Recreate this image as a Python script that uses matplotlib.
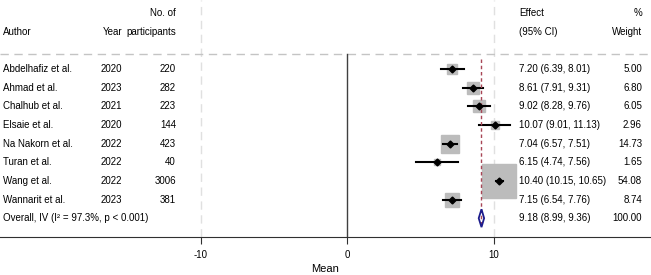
import numpy as np
import matplotlib
matplotlib.use("Agg")
import matplotlib.pyplot as plt
from matplotlib.patches import Polygon

plt.rcParams['font.family'] = ['Liberation Sans', 'DejaVu Sans']
plt.rcParams['axes.unicode_minus'] = False

authors = ['Abdelhafiz et al.', 'Ahmad et al.', 'Chalhub et al.', 'Elsaie et al.',
           'Na Nakorn et al.', 'Turan et al.', 'Wang et al.', 'Wannarit et al.']
years = [2020, 2023, 2021, 2020, 2022, 2022, 2022, 2023]
participants = [220, 282, 223, 144, 423, 40, 3006, 381]
effect = [7.20, 8.61, 9.02, 10.07, 7.04, 6.15, 10.40, 7.15]
lower = [6.39, 7.91, 8.28, 9.01, 6.57, 4.74, 10.15, 6.54]
upper = [8.01, 9.31, 9.76, 11.13, 7.51, 7.56, 10.65, 7.76]
weight = [5.00, 6.80, 6.05, 2.96, 14.73, 1.65, 54.08, 8.74]
overall = (9.18, 8.99, 9.36)
overall_label = 'Overall, IV (I² = 97.3%, p < 0.001)'

fig = plt.figure(figsize=(6.51, 2.75), dpi=100)
ax = fig.add_axes([0, 1 - 237 / 275, 1, 237 / 275])

row_px = 18.65
ax.set_xlim(-347 / 14.65, (651 - 347) / 14.65)
ax.set_ylim((237 - 69) / row_px, -69 / row_px)

fs = 7
# columns (data coords on the effect scale)
x_author, x_year, x_part = -23.48, -15.32, -11.67
x_eff, x_wt = 11.74, 20.14

# header
ax.text(x_part, -3.0, 'No. of', ha='right', va='center', fontsize=fs)
ax.text(x_author, -2.0, 'Author', ha='left', va='center', fontsize=fs)
ax.text(x_year, -2.0, 'Year', ha='right', va='center', fontsize=fs)
ax.text(x_part, -2.0, 'participants', ha='right', va='center', fontsize=fs)
ax.text(x_eff, -3.0, 'Effect', ha='left', va='center', fontsize=fs)
ax.text(x_eff, -2.0, '(95% CI)', ha='left', va='center', fontsize=fs)
ax.text(x_wt, -3.0, '%', ha='right', va='center', fontsize=fs)
ax.text(x_wt, -2.0, 'Weight', ha='right', va='center', fontsize=fs)

# reference lines
ax.axhline(-0.8, color='#c4c4c4', lw=1, dashes=(6, 4))
for xv in (-10, 10):
    ax.axvline(xv, color='#e0e0e0', lw=1, dashes=(6, 4), zorder=0)
ax.plot([0, 0], [-0.8, 9.01], color='#404040', lw=1)
ax.plot([overall[0]] * 2, [-0.55, 8.4], color='#a84656', lw=1, dashes=(2.5, 2), zorder=4)

for i in range(len(authors)):
    ax.text(x_author, i, authors[i], ha='left', va='center', fontsize=fs)
    ax.text(x_year, i, str(years[i]), ha='right', va='center', fontsize=fs)
    ax.text(x_part, i, str(participants[i]), ha='right', va='center', fontsize=fs)
    ax.text(x_eff, i, f'{effect[i]:.2f} ({lower[i]:.2f}, {upper[i]:.2f})',
            ha='left', va='center', fontsize=fs)
    ax.text(x_wt, i, f'{weight[i]:.2f}', ha='right', va='center', fontsize=fs)
    side = 34 * np.sqrt(weight[i] / max(weight)) * 0.72
    ax.plot(effect[i], i, marker='s', ms=side, color='#bcbcbc', mec='#bcbcbc', zorder=2)
    ax.plot([lower[i], upper[i]], [i, i], color='black', lw=1.5, zorder=3)
    ax.plot(effect[i], i, marker='D', ms=3.5, color='black', zorder=5)

n = len(authors)
ax.text(x_author, n, overall_label, ha='left', va='center', fontsize=fs)
ax.text(x_eff, n, f'{overall[0]:.2f} ({overall[1]:.2f}, {overall[2]:.2f})',
        ha='left', va='center', fontsize=fs)
ax.text(x_wt, n, '100.00', ha='right', va='center', fontsize=fs)
dia = Polygon([[overall[1], n], [overall[0], n - 0.48], [overall[2], n], [overall[0], n + 0.48]],
              closed=True, facecolor='none', edgecolor='#1c1c8c', lw=1.3, zorder=6)
ax.add_patch(dia)

for s in ['top', 'left', 'right']:
    ax.spines[s].set_visible(False)
ax.spines['bottom'].set_color('#303030')
ax.set_yticks([])
ax.set_xticks([-10, 0, 10])
ax.tick_params(axis='x', length=5, labelsize=fs, pad=4, color='#303030')
ax.set_xlabel('Mean', fontsize=8, labelpad=3)

fig.savefig('out.png', dpi=100)
